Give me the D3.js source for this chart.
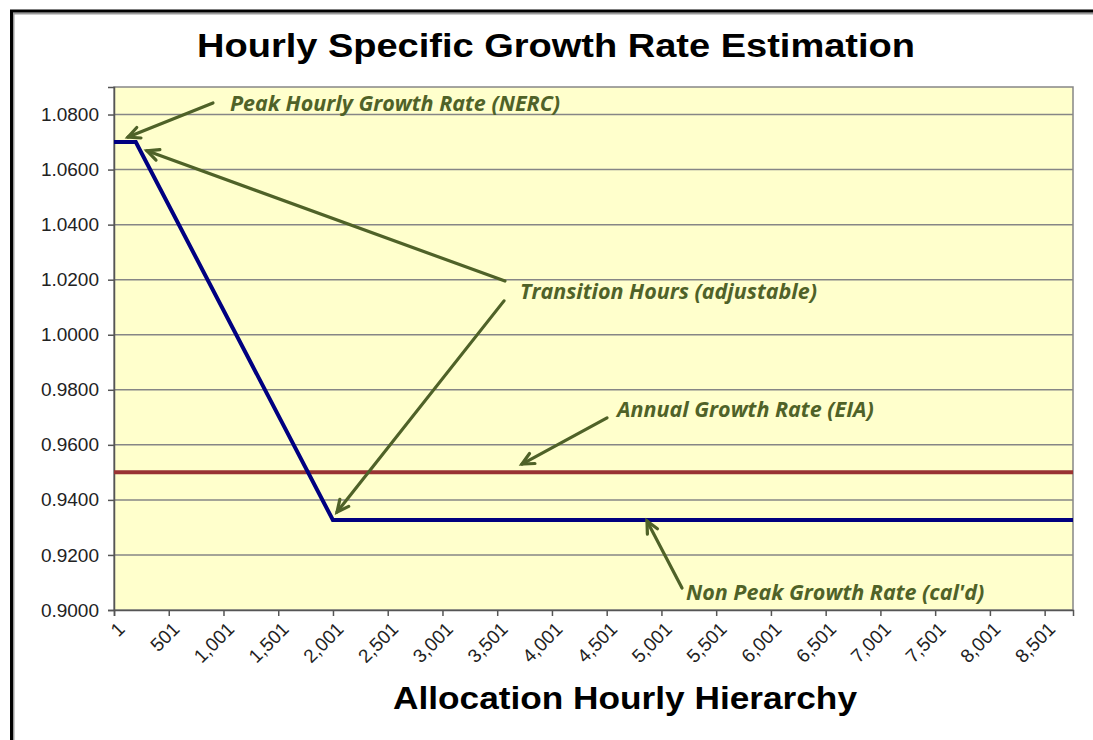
<!DOCTYPE html>
<html>
<head>
<meta charset="utf-8">
<script src="https://cdn.jsdelivr.net/npm/d3@7"></script>
<style>
  body { margin: 0; background: #fff; }
  svg { display: block; }
</style>
</head>
<body>
<script>
// hourly growth rate curve (hour rank -> rate)
const hours = [1, 200, 2000, 8760];
const rates = [1.07, 1.07, 0.9327, 0.9327];
// annual growth rate (flat)
const annualHours = [1, 8760];
const annualRates = [0.95, 0.95];

const yTicks = [0.90, 0.92, 0.94, 0.96, 0.98, 1.00, 1.02, 1.04, 1.06, 1.08];
const xTicks = d3.range(1, 8760, 500);

// callouts: label anchor + arrows, in data units (hour, rate)
const labels = [
  {text: "Peak Hourly Growth Rate (NERC)", h: 1060, v: 1.0813},
  {text: "Transition Hours (adjustable)", h: 3709, v: 1.0130},
  {text: "Annual Growth Rate (EIA)", h: 4595, v: 0.9701},
  {text: "Non Peak Growth Rate (cal'd)", h: 5225, v: 0.9036}
];
const arrows = [
  {h0: 905, v0: 1.0842, h1: 129, v1: 1.0718},
  {h0: 3572, v0: 1.0195, h1: 302, v1: 1.0668},
  {h0: 3563, v0: 1.0123, h1: 2038, v1: 0.9356},
  {h0: 4504, v0: 0.9698, h1: 3727, v1: 0.9530},
  {h0: 5189, v0: 0.9080, h1: 4869, v1: 0.9323}
];

const width = 1093, height = 740;
const margin = {top: 87, left: 114};
const plotW = 1073 - margin.left, plotH = 610 - margin.top;

const svg = d3.select("body").append("svg")
  .attr("width", width)
  .attr("height", height);

// outer frame (cut off on right/bottom like the screenshot)
svg.append("rect")
  .attr("x", 13.5).attr("y", 13.5)
  .attr("width", width + 50).attr("height", height)
  .attr("fill", "none").attr("stroke", "#999").attr("stroke-width", 2);
svg.append("rect")
  .attr("x", 11.5).attr("y", 11).attr("width", width + 50).attr("height", height)
  .attr("fill", "none").attr("stroke", "#000").attr("stroke-width", 3);

svg.append("text")
  .attr("x", 556).attr("y", 57)
  .attr("text-anchor", "middle")
  .attr("textLength", 718).attr("lengthAdjust", "spacingAndGlyphs")
  .style("font", "bold 34px 'Liberation Sans', Arial, sans-serif")
  .text("Hourly Specific Growth Rate Estimation");

const x = d3.scaleLinear().domain([1, 8760]).range([0, plotW]);
const y = d3.scaleLinear().domain([0.9, 1.09]).range([plotH, 0]);

const g = svg.append("g").attr("transform", `translate(${margin.left},${margin.top})`);

g.append("rect")
  .attr("width", plotW).attr("height", plotH)
  .attr("fill", "#FFFFCC");

g.append("g")
  .selectAll("line")
  .data(yTicks.slice(1))
  .enter().append("line")
  .attr("x1", 0).attr("x2", plotW)
  .attr("y1", d => y(d)).attr("y2", d => y(d))
  .attr("stroke", "#868686").attr("stroke-width", 1.5);

g.append("rect")
  .attr("width", plotW).attr("height", plotH)
  .attr("fill", "none").attr("stroke", "#868686").attr("stroke-width", 1.5);

const tickFont = "19px 'Liberation Sans', Arial, sans-serif";

const yAxis = g.append("g")
  .call(d3.axisLeft(y).tickValues(yTicks).tickFormat(d3.format(".4f")).tickSize(6).tickPadding(9));
yAxis.select(".domain").attr("stroke", "#555").attr("stroke-width", 1.5);
yAxis.selectAll(".tick line").attr("stroke", "#555").attr("stroke-width", 1.5);
yAxis.selectAll("text").style("font", tickFont).attr("fill", "#222");

const xAxis = g.append("g")
  .attr("transform", `translate(0,${plotH})`)
  .call(d3.axisBottom(x).tickValues(xTicks).tickFormat(d3.format(",")).tickSize(6));
xAxis.select(".domain").attr("stroke", "#555").attr("stroke-width", 1.5);
xAxis.selectAll(".tick line").attr("stroke", "#555").attr("stroke-width", 1.5);
xAxis.selectAll("text")
  .style("font", tickFont).attr("fill", "#222")
  .attr("text-anchor", "end")
  .attr("dy", null)
  .attr("transform", "translate(5,14) rotate(-45)");

svg.append("text")
  .attr("x", 625).attr("y", 709)
  .attr("text-anchor", "middle")
  .attr("textLength", 464).attr("lengthAdjust", "spacingAndGlyphs")
  .style("font", "bold 31px 'Liberation Sans', Arial, sans-serif")
  .text("Allocation Hourly Hierarchy");

const line = d3.line().x(d => x(d[0])).y(d => y(d[1]));

g.append("path")
  .datum(d3.zip(annualHours, annualRates))
  .attr("d", line)
  .attr("fill", "none").attr("stroke", "#993333").attr("stroke-width", 4);

g.append("path")
  .datum(d3.zip(hours, rates))
  .attr("d", line)
  .attr("fill", "none").attr("stroke", "#000080").attr("stroke-width", 4)
  .attr("stroke-linejoin", "miter");

const green = "#4F6228";

// arrows with open chevron heads
const head = 13, spread = 0.45;
const ag = g.append("g").attr("stroke", green).attr("stroke-width", 3.2)
  .attr("stroke-linecap", "round").attr("fill", "none");
arrows.forEach(a => {
  const x0 = x(a.h0), y0 = y(a.v0), x1 = x(a.h1), y1 = y(a.v1);
  const ang = Math.atan2(y0 - y1, x0 - x1);
  ag.append("line").attr("x1", x0).attr("y1", y0).attr("x2", x1).attr("y2", y1);
  ag.append("path").attr("d", d3.line()([
    [x1 + head * Math.cos(ang + spread), y1 + head * Math.sin(ang + spread)],
    [x1, y1],
    [x1 + head * Math.cos(ang - spread), y1 + head * Math.sin(ang - spread)]
  ])).attr("stroke-linejoin", "miter");
});

g.append("g")
  .selectAll("text")
  .data(labels)
  .enter().append("text")
  .attr("x", d => x(d.h)).attr("y", d => y(d.v))
  .attr("fill", green)
  .style("font", "italic bold 21.5px 'Open Sans', Lato, sans-serif")
  .text(d => d.text);
</script>
</body>
</html>
